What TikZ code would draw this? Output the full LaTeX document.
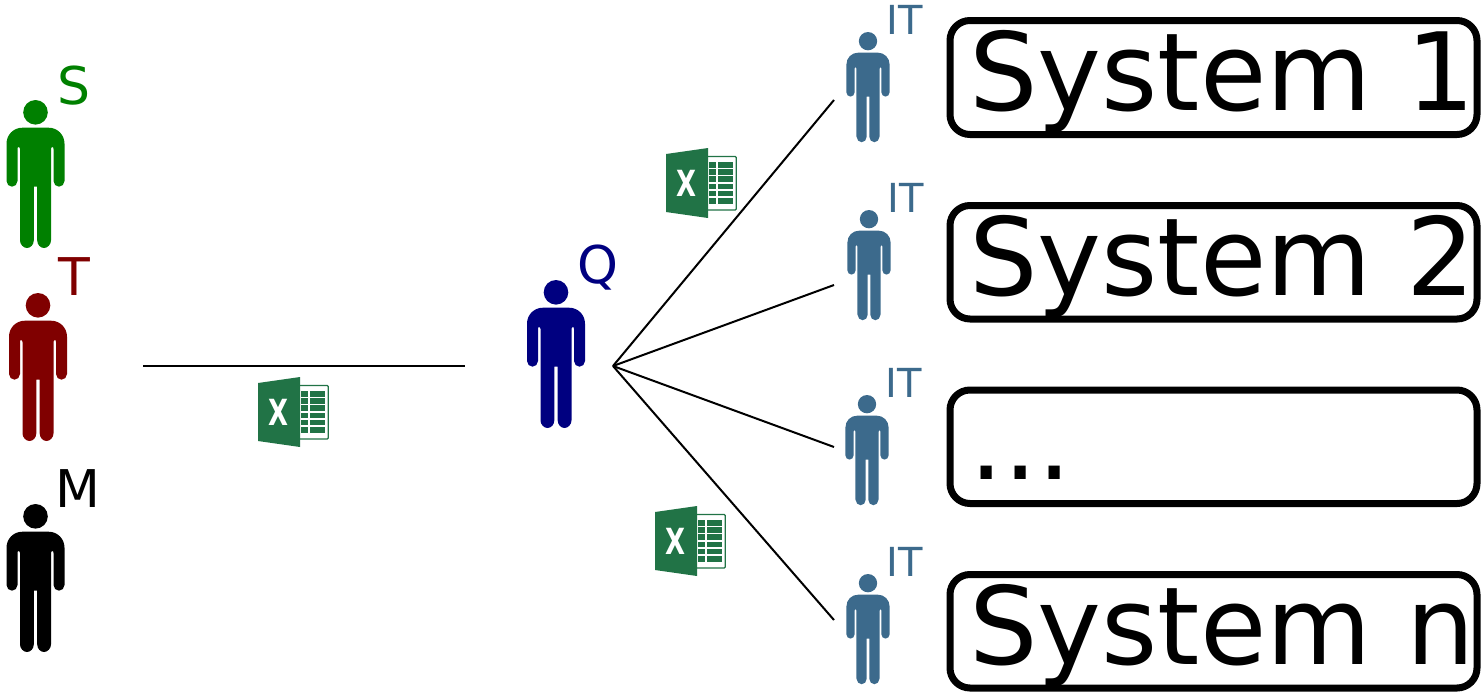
\documentclass[tikz,border=0pt]{standalone}
\usepackage{fontspec}
\setmainfont{DejaVu Sans}
\definecolor{sgreen}{HTML}{008000}
\definecolor{tred}{HTML}{800000}
\definecolor{qblue}{HTML}{000080}
\definecolor{itblue}{HTML}{3C6A8C}
\definecolor{xlgreen}{HTML}{217346}
\tikzset{
  x=1pt,y=-1pt,
  person/.pic={
    \fill[pic actions] (0,12.3) circle (12.3);
    \fill[pic actions] (-13,27.7) -- (13,27.7) .. controls (22,27.7) and (29,34.7) .. (29,43.7)
      -- (29,81) .. controls (29,84.1) and (26.5,86.7) .. (23.5,86.7)
      .. controls (20.5,86.7) and (18,84.1) .. (18,81) -- (18,49)
      .. controls (18,47.9) and (17.8,47) .. (17,47) .. controls (16,47) and (15.5,47.9) .. (15.5,49)
      -- (15.5,140.3) .. controls (15.5,144.5) and (12,148) .. (8.6,148)
      .. controls (4.7,148) and (1.7,144.5) .. (1.7,140.3) -- (1.7,86.7) -- (-1.7,86.7) -- (-1.7,140.3)
      .. controls (-1.7,144.5) and (-4.7,148) .. (-8.6,148)
      .. controls (-12,148) and (-15.5,144.5) .. (-15.5,140.3) -- (-15.5,49)
      .. controls (-15.5,47.9) and (-16,47) .. (-17,47) .. controls (-17.8,47) and (-18,47.9) .. (-18,49)
      -- (-18,81) .. controls (-18,84.1) and (-20.5,86.7) .. (-23.5,86.7)
      .. controls (-26.5,86.7) and (-29,84.1) .. (-29,81) -- (-29,43.7)
      .. controls (-29,34.7) and (-22,27.7) .. (-13,27.7) -- cycle;
  },
  excel/.pic={
    \draw[xlgreen,line width=1.3pt,fill=white,rounded corners=1pt] (40,8.5) -- (70.3,8.5) -- (70.3,62) -- (40,62);
    \foreach \r in {0,1,2,3,4,5}{
      \fill[xlgreen] (43,{14+\r*7.2}) rectangle (49.5,{19.6+\r*7.2});
      \fill[xlgreen] (51.5,{14+\r*7.2}) rectangle (66.5,{19.6+\r*7.2});
    }
    \fill[xlgreen] (0,6) -- (42,0) -- (42,70) -- (0,64) -- cycle;
    \node[white,font=\bfseries\fontsize{36}{36}\selectfont,xscale=.72,transform shape] at (20.5,35) {X};
  },
  tag/.style={anchor=base,inner sep=0pt},
  big/.style={font=\fontsize{52}{52}\selectfont,tag},
  small/.style={font=\fontsize{40}{40}\selectfont,tag,text=itblue},
  sysbox/.style={draw=black,line width=7pt,rounded corners=20pt,fill=white},
  systext/.style={font=\fontsize{108}{108}\selectfont,anchor=base west,inner sep=0pt},
  link/.style={draw=black,line width=2pt},
}
\begin{document}
\begin{tikzpicture}
\useasboundingbox (0,0) rectangle (1484,694);
% people
\path pic[fill=sgreen] (ps) at (35.5,100) {person};
\path pic[fill=tred] (pt) at (38,293) {person};
\path pic[fill=black] (pm) at (35.5,504) {person};
\path pic[fill=qblue] (pq) at (556,280) {person};
\path pic[fill=itblue,scale=.745] (pi1) at (868,32) {person};
\path pic[fill=itblue,scale=.745] (pi2) at (869,210) {person};
\path pic[fill=itblue,scale=.745] (pi3) at (867,395) {person};
\path pic[fill=itblue,scale=.745] (pi4) at (868,574) {person};
% role letters
\node[big,text=sgreen] (ls) at (74,104) {S};
\node[big,text=tred] (lt) at (74,295) {T};
\node[big] (lm) at (78,507) {M};
\node[big,text=qblue] (lq) at (598,283) {Q};
\node[small] (li1) at (905,34) {IT};
\node[small] (li2) at (906,212) {IT};
\node[small] (li3) at (904,397) {IT};
\node[small] (li4) at (905,576) {IT};
% connectors
\coordinate (a) at (143,366);
\coordinate (b) at (465,366);
\coordinate (hub) at (613,366);
\coordinate (e1) at (834,100);
\coordinate (e2) at (834,285);
\coordinate (e3) at (834,447);
\coordinate (e4) at (834,620);
\draw[link] (a) -- (b);
\draw[link] (hub) -- (e1);
\draw[link] (hub) -- (e2);
\draw[link] (hub) -- (e3);
\draw[link] (hub) -- (e4);
% excel icons
\path pic (x1) at (666,148) {excel};
\path pic (x2) at (258,377) {excel};
\path pic (x3) at (655,506) {excel};
% systems
\draw[sysbox] (950,20.5) rectangle (1477,134.5);
\draw[sysbox] (950,205.5) rectangle (1477,319);
\draw[sysbox] (950,390) rectangle (1477,503.5);
\draw[sysbox] (950,574.5) rectangle (1477,688);
\node[systext] (s1) at (969,110) {System 1};
\node[systext] (s2) at (969,295) {System 2};
\node[systext] (s3) at (969,479) {...};
\node[systext] (s4) at (969,664) {System n};
\end{tikzpicture}
\end{document}
